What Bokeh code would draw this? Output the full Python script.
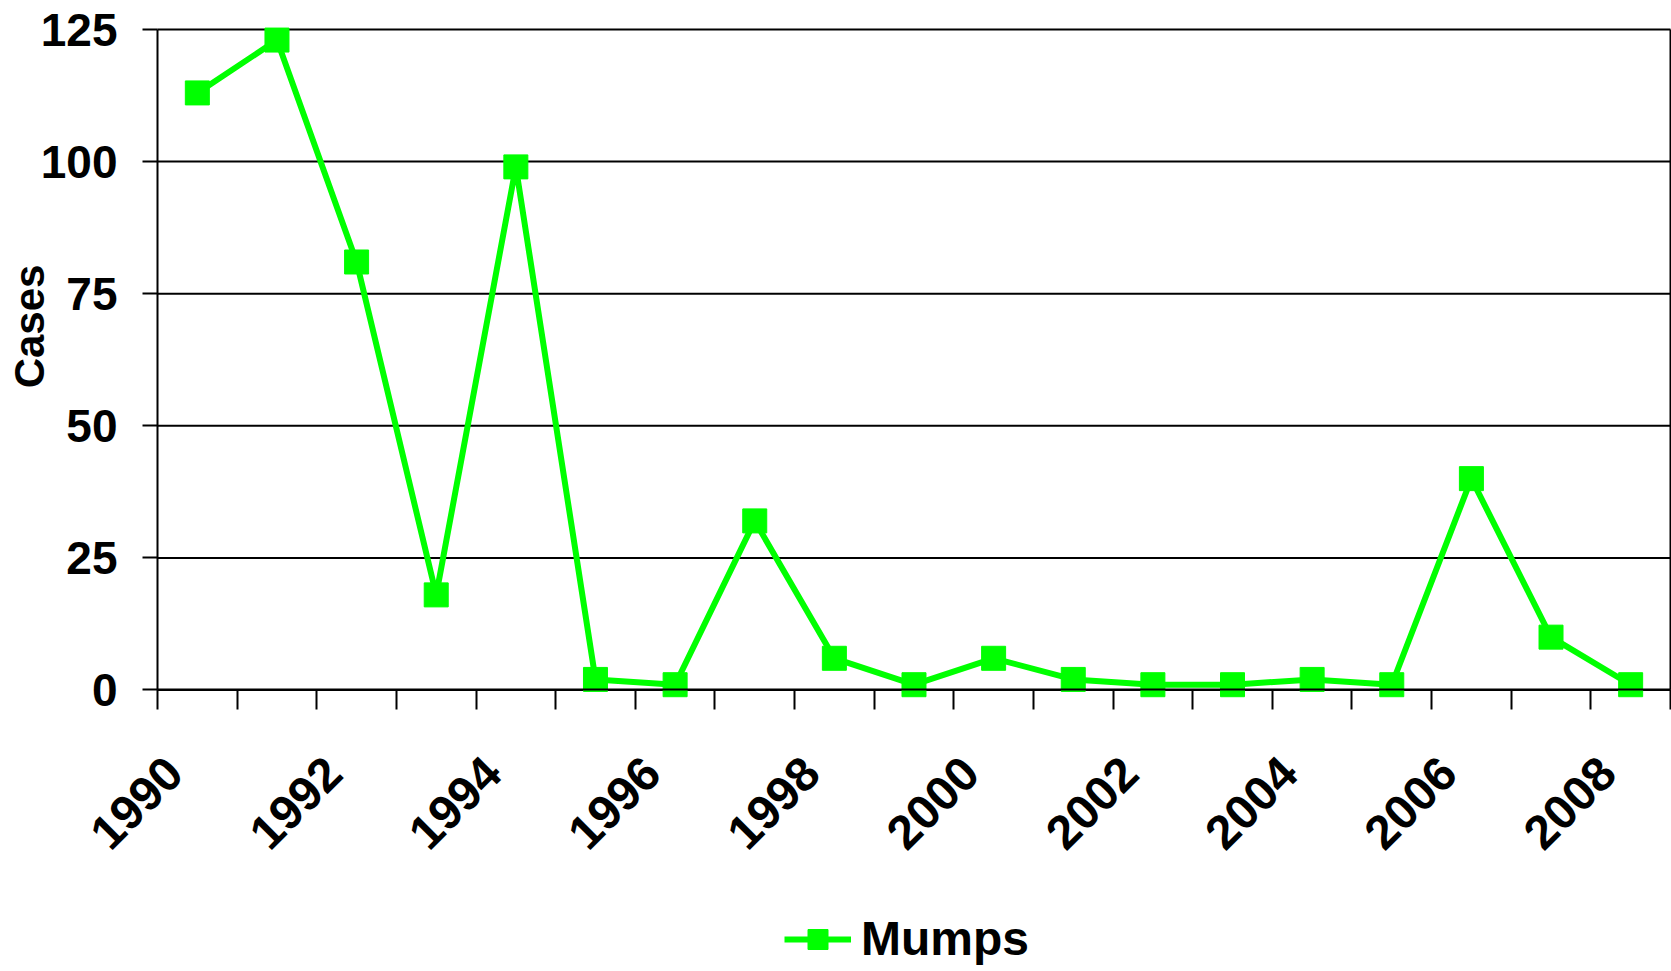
from math import pi
from bokeh.plotting import figure
from bokeh.models import (FixedTicker, Legend, LegendItem, Range1d,
                          NumeralTickFormatter, LinearAxis, Label)
from bokeh.embed import file_html
from bokeh.resources import INLINE

years = list(range(1990, 2009))
mumps = [113, 123, 81, 18, 99, 2, 1, 32, 6, 1, 6, 2, 1, 1, 2, 1, 40, 10, 1]
y_ticks = [0, 25, 50, 75, 100, 125]
label_years = years[::2]

GREEN = "#00FF00"
FONT = "Liberation Sans"

X_LO, X_HI = years[0] - 0.5, years[-1] + 0.5   # plot box, categories
Y_LO, Y_HI = 0, 125                             # plot box, cases

# The drawing area covers the whole figure; the axes sit at fixed places
# inside it so that the slanted year labels and the legend are not cut off.
p = figure(width=1671, height=966, output_backend="svg", toolbar_location=None,
           x_range=Range1d(1987.528, 2008.513),
           y_range=Range1d(-52.33, 130.49),
           x_axis_location=None, y_axis_location=None,
           min_border=0)
p.outline_line_color = None
p.xgrid.visible = False
p.ygrid.visible = False

# horizontal grid lines between the two value axes (incl. top border at 125)
p.segment(x0=X_LO, x1=X_HI, y0=y_ticks, y1=y_ticks,
          line_color="black", line_width=2)

line = p.line(years, mumps, line_color=GREEN, line_width=6)
pts = p.scatter(years, mumps, marker="square", size=24, fill_color=GREEN,
                line_color=GREEN)

# y axis (left)
yax = LinearAxis(fixed_location=X_LO, ticker=FixedTicker(ticks=y_ticks),
                 bounds=(Y_LO, Y_HI))
yax.axis_line_width = 2
yax.major_tick_line_width = 2
yax.major_tick_out = 15
yax.major_tick_in = 0
yax.minor_tick_line_color = None
yax.major_label_text_font = FONT
yax.major_label_text_font_style = "bold"
yax.major_label_text_font_size = "46px"
yax.major_label_text_color = "black"
yax.major_label_standoff = 25
p.add_layout(yax, "left")

p.add_layout(Label(x=1987.893, y=68.8, text="Cases", angle=pi / 2,
                   text_align="center", text_baseline="middle",
                   text_font=FONT, text_font_style="bold",
                   text_font_size="42px", text_color="black"))

# right border of the plot box
rax = LinearAxis(fixed_location=X_HI, ticker=FixedTicker(ticks=[]),
                 bounds=(Y_LO, Y_HI))
rax.axis_line_width = 2
rax.major_tick_line_color = None
rax.minor_tick_line_color = None
p.add_layout(rax, "right")

# x axis at 0: labels every other year (a bit left, like the original),
# tick marks between categories
xax = LinearAxis(fixed_location=Y_LO,
                 ticker=FixedTicker(ticks=[y - 0.29 for y in label_years],
                                    minor_ticks=[y - 0.5 for y in years] + [X_HI]),
                 formatter=NumeralTickFormatter(format="0"),
                 bounds=(X_LO, X_HI))
xax.axis_line_width = 2
xax.major_tick_out = 0
xax.major_tick_in = 0
xax.minor_tick_out = 20
xax.minor_tick_in = 0
xax.minor_tick_line_width = 2
xax.minor_tick_line_color = "black"
xax.major_label_orientation = pi / 4
xax.major_label_text_font = FONT
xax.major_label_text_font_style = "bold"
xax.major_label_text_font_size = "48px"
xax.major_label_text_color = "black"
xax.major_label_standoff = 55
p.add_layout(xax, "below")

legend = Legend(items=[LegendItem(label="Mumps", renderers=[line, pts])],
                location=(784, 0), orientation="horizontal",
                label_text_font=FONT, label_text_font_style="bold",
                label_text_font_size="48px", label_text_color="black",
                glyph_width=67, glyph_height=50,
                border_line_color=None, background_fill_alpha=0,
                padding=0, margin=0, label_standoff=10)
p.add_layout(legend, "center")

open("out.html", "w").write(file_html(p, INLINE))
